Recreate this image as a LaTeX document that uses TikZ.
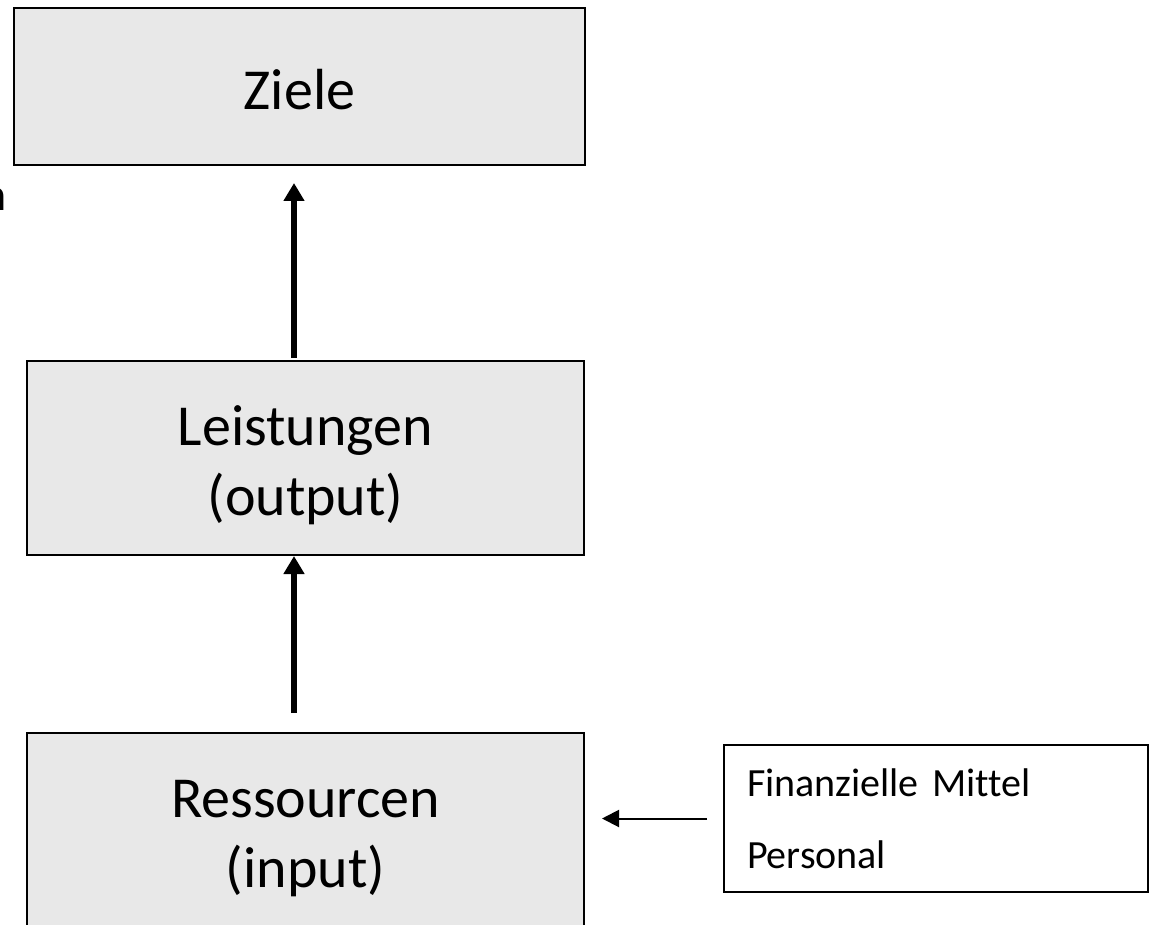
\documentclass[tikz,border=0pt]{standalone}
\usepackage{fontspec}
\setmainfont{Carlito}[Ligatures=CommonOff]
\usetikzlibrary{arrows.meta}
\definecolor{boxgray}{HTML}{E8E8E8}
\newcommand{\toppad}{\rule{0pt}{54pt}}
\begin{document}
\begin{tikzpicture}[x=1pt,y=-1pt,
  graybox/.style={draw=black, line width=2.5pt, fill=boxgray, inner sep=0pt, outer sep=0pt,
    anchor=north west, align=center, font=\fontsize{58}{70}\selectfont},
  listbox/.style={draw=black, line width=2pt, fill=white, inner ysep=0pt, inner xsep=23pt, outer sep=0pt,
    anchor=north west, align=left, text width=378pt, minimum height=147pt,
    font=\fontsize{40}{72}\selectfont},
  bigarrow/.style={line width=6pt, -{Triangle[width=20pt,length=18pt]}},
  smallarrow/.style={line width=2pt, -{Triangle[width=17pt,length=17pt]}}]
\useasboundingbox (0,0) rectangle (1155,925);
\node[graybox, minimum width=571pt, minimum height=157pt] (ziele) at (14,8) {\rule{0pt}{46pt}Ziele};
\node[graybox, minimum width=557pt, minimum height=194pt] (leist) at (27,361) {\toppad Leistungen\\(output)};
\node[graybox, minimum width=557pt, minimum height=194pt] (ress) at (27,733) {\toppad Ressourcen\\(input)};
\node[listbox] (fin) at (724,745) {Finanzielle Mittel\\Personal};
\node[font=\fontsize{46}{55}\selectfont, anchor=base east, inner sep=0pt] (frag) at (7,211) {n};
\draw[bigarrow] ([xshift=-11.5pt,yshift=3pt]leist.north) -- ([xshift=-5.5pt,yshift=-18pt]ziele.south);
\draw[bigarrow] ([xshift=-11.5pt,yshift=20pt]ress.north) -- ([xshift=-11.5pt,yshift=-1pt]leist.south);
\draw[smallarrow] ([xshift=-17pt]fin.west) -- ([xshift=18pt]fin.west -| ress.east);
\end{tikzpicture}
\end{document}
